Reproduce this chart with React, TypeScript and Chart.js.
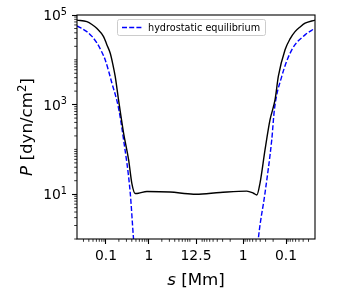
import React, { useEffect, useRef } from "react";
import { Chart, registerables } from "chart.js";

Chart.register(...registerables);

// Loop half-length (apex) in Mm and axis limit (distance from each footpoint)
const apexS = 12.5;
const edgeS = 0.0212;

// Black curve, left half: distance from left footpoint [Mm] and pressure [dyn/cm^2]
const blackLeftS = [0.0212, 0.036, 0.0472, 0.062, 0.088, 0.1055, 0.126, 0.144, 0.164, 0.196, 0.257, 0.336, 0.403, 0.48, 0.573, 0.9, 3.1, 10.9, 12.5];
const blackLeftP = [77000, 71000, 61500, 50000, 33000, 21500, 14000, 8150, 4300, 1300, 235, 60, 17, 10.4, 10.5, 11.5, 11.2, 10.0, 10.0];
// Black curve, right half: distance from right footpoint [Mm]
const blackRightS = [3.43, 0.82, 0.575, 0.48, 0.403, 0.308, 0.236, 0.18, 0.151, 0.1055, 0.0807, 0.0618, 0.0472, 0.0361, 0.0212];
const blackRightP = [10.9, 11.7, 10.5, 9.6, 18, 100, 460, 1300, 4300, 16700, 29300, 42500, 54100, 65500, 77000];

// Hydrostatic equilibrium (blue dashed)
const hydroLeftS = [0.0212, 0.036, 0.0472, 0.062, 0.0778, 0.096, 0.138, 0.196, 0.257, 0.367, 0.438, 0.5];
const hydroLeftP = [57000, 42500, 33300, 23500, 15800, 10000, 3000, 850, 167, 11, 1.04, 0.25];
const hydroRightS = [0.5, 0.441, 0.308, 0.215, 0.187, 0.126, 0.0736, 0.0361, 0.0212];
const hydroRightP = [0.25, 1.04, 10.9, 167, 770, 4260, 16700, 36000, 50600];

// Tick values (distance from footpoint) and labels
const xTickS = [0.1, 1, 12.5, 1, 0.1];
const xTickSide = ["L", "L", "L", "R", "R"];
const xTickLabels = ["0.1", "1", "12.5", "1", "0.1"];
const xMinorS = [0.03, 0.04, 0.05, 0.06, 0.07, 0.08, 0.09, 0.2, 0.3, 0.4, 0.5, 0.6, 0.7, 0.8, 0.9, 2, 3, 4, 5, 6, 7, 8, 9];
const yTickValues = [10, 1000, 100000];
const yTickBase = ["10", "10", "10"];
const yTickExp = ["1", "3", "5"];
const yMin = 1;
const yMax = 100000;

const uc = Math.log10(apexS);
const uLeft = (s: number) => Math.log10(s);
const uRight = (s: number) => 2 * uc - Math.log10(s);
const uMin = uLeft(edgeS);
const uMax = uRight(edgeS);

const FONT = "'DejaVu Sans', sans-serif";

function drawSegments(ctx: CanvasRenderingContext2D, segs: { t: string; f: string; dy?: number }[], cx: number, baseline: number, align: string = "center") {
  let total = 0;
  for (const s of segs) {
    ctx.font = s.f;
    total += ctx.measureText(s.t).width;
  }
  let x = align === "center" ? cx - total / 2 : align === "right" ? cx - total : cx;
  ctx.textBaseline = "alphabetic";
  ctx.textAlign = "left";
  for (const s of segs) {
    ctx.font = s.f;
    ctx.fillText(s.t, x, baseline + (s.dy || 0));
    x += ctx.measureText(s.t).width;
  }
}

const decorPlugin = {
  id: "decor",
  afterDraw(chart: any) {
    const ctx: CanvasRenderingContext2D = chart.ctx;
    const a = chart.chartArea;
    const xs = chart.scales.x;
    const ys = chart.scales.y;
    ctx.save();
    // frame
    ctx.strokeStyle = "#000";
    ctx.lineWidth = 1.1;
    ctx.strokeRect(a.left, a.top, a.right - a.left, a.bottom - a.top);
    // minor ticks
    ctx.lineWidth = 0.8;
    ctx.beginPath();
    const minorU: number[] = [];
    xMinorS.forEach((s) => { minorU.push(uLeft(s)); minorU.push(uRight(s)); });
    minorU.forEach((u) => {
      if (u < uMin || u > uMax) return;
      const px = xs.getPixelForValue(u);
      ctx.moveTo(px, a.bottom);
      ctx.lineTo(px, a.bottom + 2.8);
    });
    for (let d = 0; d < 5; d++) {
      for (let m = 1; m <= 9; m++) {
        const v = m * Math.pow(10, d);
        if (v < yMin || v > yMax || yTickValues.includes(v)) continue;
        const py = ys.getPixelForValue(v);
        ctx.moveTo(a.left, py);
        ctx.lineTo(a.left - 2.8, py);
      }
    }
    ctx.stroke();

    // y tick labels with superscript exponents
    ctx.fillStyle = "#000";
    yTickValues.forEach((v, i) => {
      const py = ys.getPixelForValue(v);
      drawSegments(ctx, [
        { t: yTickBase[i], f: `13.9px ${FONT}` },
        { t: yTickExp[i], f: `9.7px ${FONT}`, dy: -5.5 },
      ], a.left - 10, py + 5, "right");
    });

    // legend
    const lx = 117.5, ly = 19.5, lw = 148, lh = 16;
    ctx.fillStyle = "rgba(255,255,255,0.8)";
    ctx.strokeStyle = "#cccccc";
    ctx.lineWidth = 1;
    ctx.beginPath();
    ctx.roundRect(lx, ly, lw, lh, 2);
    ctx.fill();
    ctx.stroke();
    const ds = chart.data.datasets[1];
    ctx.strokeStyle = ds.borderColor;
    ctx.lineWidth = ds.borderWidth;
    ctx.setLineDash(ds.borderDash);
    ctx.beginPath();
    ctx.moveTo(122, ly + lh / 2);
    ctx.lineTo(142, ly + lh / 2);
    ctx.stroke();
    ctx.setLineDash([]);
    ctx.fillStyle = "#000";
    ctx.font = `9.7px ${FONT}`;
    ctx.textAlign = "left";
    ctx.textBaseline = "middle";
    ctx.fillText(ds.label, 148, ly + lh / 2 + 0.5);

    // axis titles
    ctx.fillStyle = "#000";
    drawSegments(ctx, [
      { t: "s", f: `italic 16.7px ${FONT}` },
      { t: " [Mm]", f: `16.7px ${FONT}` },
    ], (a.left + a.right) / 2, 284.5);
    ctx.save();
    ctx.translate(32, (a.top + a.bottom) / 2);
    ctx.rotate(-Math.PI / 2);
    drawSegments(ctx, [
      { t: "P", f: `italic 16.7px ${FONT}` },
      { t: " [dyn/cm", f: `16.7px ${FONT}` },
      { t: "2", f: `11.7px ${FONT}`, dy: -6.5 },
      { t: "]", f: `16.7px ${FONT}` },
    ], 0, 0);
    ctx.restore();
    ctx.restore();
  },
};

export default function App() {
  const ref = useRef<HTMLCanvasElement>(null);
  useEffect(() => {
    if (!ref.current) return;
    const blackData = [
      ...blackLeftS.map((s, i) => ({ x: uLeft(s), y: blackLeftP[i] })),
      ...blackRightS.map((s, i) => ({ x: uRight(s), y: blackRightP[i] })),
    ];
    const hydroData = [
      ...hydroLeftS.map((s, i) => ({ x: uLeft(s), y: hydroLeftP[i] })),
      { x: uc, y: null as any },
      ...hydroRightS.map((s, i) => ({ x: uRight(s), y: hydroRightP[i] })),
    ];
    const xTickU = xTickS.map((s, i) => (xTickSide[i] === "L" ? uLeft(s) : uRight(s)));
    const chart = new Chart(ref.current, {
      type: "line",
      data: {
        datasets: [
          {
            label: "model",
            data: blackData,
            borderColor: "#000000",
            borderWidth: 1.4,
            pointRadius: 0,
            fill: false,
            cubicInterpolationMode: "monotone",
          },
          {
            label: "hydrostatic equilibrium",
            data: hydroData,
            borderColor: "#0000ff",
            borderWidth: 1.4,
            borderDash: [5, 2.2],
            pointRadius: 0,
            fill: false,
            spanGaps: false,
            cubicInterpolationMode: "monotone",
          },
        ],
      } as any,
      options: {
        animation: false,
        responsive: false,
        maintainAspectRatio: false,
        layout: { padding: { left: 0, top: 15, right: 35, bottom: 0 } },
        plugins: { legend: { display: false }, tooltip: { enabled: false } },
        scales: {
          x: {
            type: "linear",
            min: uMin,
            max: uMax,
            afterBuildTicks: (s: any) => { s.ticks = xTickU.map((v) => ({ value: v })); },
            afterFit: (s: any) => { s.height = 61; },
            ticks: {
              autoSkip: false,
              maxRotation: 0,
              padding: 4,
              color: "#000",
              font: { family: FONT, size: 13.9 },
              callback: (_v: any, i: number) => xTickLabels[i],
            },
            grid: { display: true, drawOnChartArea: false, drawTicks: true, tickLength: 5, tickColor: "#000", tickWidth: 1.1 },
            border: { display: false },
          },
          y: {
            type: "logarithmic",
            min: yMin,
            max: yMax,
            afterBuildTicks: (s: any) => { s.ticks = yTickValues.map((v) => ({ value: v })); },
            afterFit: (s: any) => { s.width = 77; },
            ticks: {
              display: false,
              autoSkip: false,
            },
            grid: { display: true, drawOnChartArea: false, drawTicks: true, tickLength: 5, tickColor: "#000", tickWidth: 1.1 },
            border: { display: false },
          },
        },
      } as any,
      plugins: [decorPlugin],
    });
    return () => chart.destroy();
  }, []);
  return (
    <div style={{ position: "fixed", left: 0, top: 0, width: 350, height: 300, background: "#fff" }}>
      <canvas ref={ref} width={350} height={300} style={{ width: 350, height: 300 }} />
    </div>
  );
}
